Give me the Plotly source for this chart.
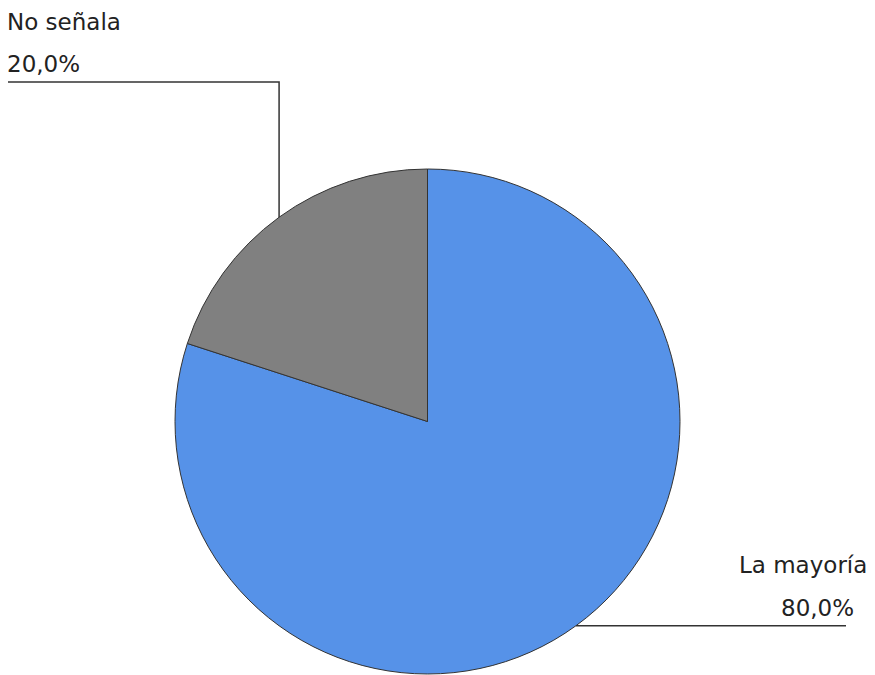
import math
import plotly.graph_objects as go

labels = ["La mayoría", "No señala"]
values = [80.0, 20.0]
colors = ["#5692E8", "#808080"]

W, H = 875, 675
# pie geometry in pixels (layout)
CX, CY, R = 427.5, 421.5, 252.5

def px(x):
    return x / W

def py(y):
    return 1 - y / H

fig = go.Figure(go.Pie(
    labels=labels, values=values, sort=False, direction="clockwise", rotation=0,
    marker=dict(colors=colors, line=dict(color="#333333", width=1)),
    textinfo="none", hoverinfo="label+percent", showlegend=False,
    domain=dict(x=[0, (CX * 2) / W], y=[py(CY + R), py(CY - R)]),
))

total = sum(values)
cum = 0.0
mids = []
for v in values:
    mid = (cum + v / 2) / total * 2 * math.pi
    mids.append(mid)
    cum += v

def edge(angle):
    return CX + R * math.sin(angle), CY - R * math.cos(angle)

fmt = lambda v: f"{v:.1f}".replace(".", ",") + "%"

shapes = []
annotations = []
font = dict(family="DejaVu Sans", size=23, color="#222222")

# La mayoría (right, bottom)
ex, ey = edge(mids[0])
lx_end = 846
shapes.append(dict(type="line", xref="paper", yref="paper",
                   x0=px(ex), y0=py(ey), x1=px(lx_end), y1=py(ey),
                   line=dict(color="#333333", width=1.5)))
annotations.append(dict(text=labels[0], x=px(869), y=py(ey - 46), xref="paper", yref="paper",
                        xanchor="right", yanchor="bottom", showarrow=False, font=font))
annotations.append(dict(text=fmt(values[0] / total * 100), x=px(856), y=py(ey - 3),
                        xref="paper", yref="paper", xanchor="right", yanchor="bottom",
                        showarrow=False, font=font))

# No señala (left, top)
ex, ey = edge(mids[1])
ly = 82
shapes.append(dict(type="path", xref="paper", yref="paper",
                   path=f"M {px(ex)} {py(ey)} L {px(ex)} {py(ly)} L {px(8)} {py(ly)}",
                   line=dict(color="#333333", width=1.5)))
annotations.append(dict(text=labels[1], x=px(5), y=py(ly - 45), xref="paper", yref="paper",
                        xanchor="left", yanchor="bottom", showarrow=False, font=font))
annotations.append(dict(text=fmt(values[1] / total * 100), x=px(5), y=py(ly - 3),
                        xref="paper", yref="paper", xanchor="left", yanchor="bottom",
                        showarrow=False, font=font))

fig.update_layout(width=W, height=H, margin=dict(l=0, r=0, t=0, b=0),
                  paper_bgcolor="white", plot_bgcolor="white",
                  shapes=shapes, annotations=annotations)

fig.write_html("out.html", config={"displayModeBar": False},
               post_script="document.body.style.margin='0';document.body.style.overflow='hidden';")
